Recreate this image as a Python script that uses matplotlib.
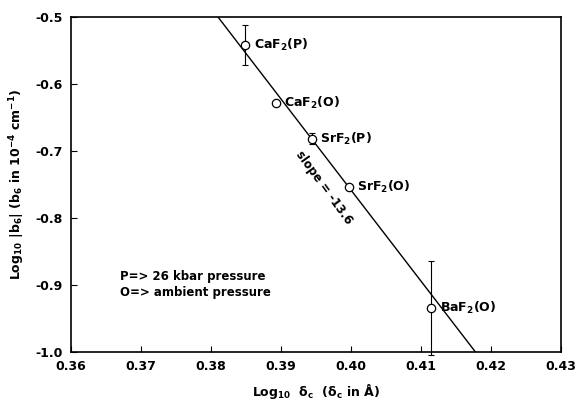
import numpy as np
import matplotlib
matplotlib.use('Agg')
import matplotlib.pyplot as plt

# values
names = ['CaF$_2$(P)', 'CaF$_2$(O)', 'SrF$_2$(P)', 'SrF$_2$(O)', 'BaF$_2$(O)']
log_delta = [0.3849, 0.3893, 0.3944, 0.3997, 0.4115]
log_b6 = [-0.542, -0.628, -0.682, -0.754, -0.934]
err = [0.030, 0.0, 0.008, 0.0, 0.070]

# fitted line
slope = -13.6
line_x = [0.381, 0.4178]

plt.rcParams['font.family'] = 'DejaVu Sans'
plt.rcParams['font.weight'] = 'bold'
plt.rcParams['axes.labelweight'] = 'bold'
plt.rcParams['mathtext.default'] = 'bf'

fig = plt.figure(figsize=(5.76, 4.12), dpi=100)
ax = fig.add_axes([0.123, 0.146, 0.851, 0.813])

line_y = [-0.5 + slope * (x - line_x[0]) for x in line_x]
ax.plot(line_x, line_y, color='black', lw=1.0)

for x, y, e in zip(log_delta, log_b6, err):
    if e > 0:
        ax.errorbar(x, y, yerr=e, fmt='none', ecolor='black', elinewidth=0.8,
                    capsize=2.5, capthick=0.8, clip_on=False)
ax.plot(log_delta, log_b6, 'o', mfc='white', mec='black', ms=6, mew=0.9,
        linestyle='none', zorder=3)

for name, x, y in zip(names, log_delta, log_b6):
    ax.text(x + 0.0012, y, name, fontsize=9, va='center', ha='left')

ax.text(0.3961, -0.755, 'slope = -13.6', rotation=-54, fontsize=8.5,
        ha='center', va='center', rotation_mode='anchor')

ax.text(0.367, -0.899, 'P=> 26 kbar pressure\nO=> ambient pressure',
        fontsize=8.5, va='center', ha='left', linespacing=1.3)

ax.set_xlim(0.36, 0.43)
ax.set_ylim(-1.0, -0.5)
ax.set_xticks(np.arange(0.36, 0.4301, 0.01))
ax.set_yticks(np.arange(-1.0, -0.499, 0.1))
ax.set_xticklabels(['0.36', '0.37', '0.38', '0.39', '0.40', '0.41', '0.42', '0.43'])
ax.set_yticklabels(['-1.0', '-0.9', '-0.8', '-0.7', '-0.6', '-0.5'])
ax.tick_params(direction='in', length=4, labelsize=9, pad=6)
for s in ['left', 'bottom', 'right', 'top']:
    ax.spines[s].set_linewidth(1.2)

ax.set_xlabel('Log$_{10}$  $\\delta_c$  ($\\delta_c$ in Å)', fontsize=9, labelpad=6)
ax.set_ylabel('Log$_{10}$ |b$_6$| (b$_6$ in 10$^{-4}$ cm$^{-1}$)', fontsize=9, labelpad=6)

fig.savefig('out.png', dpi=100)
